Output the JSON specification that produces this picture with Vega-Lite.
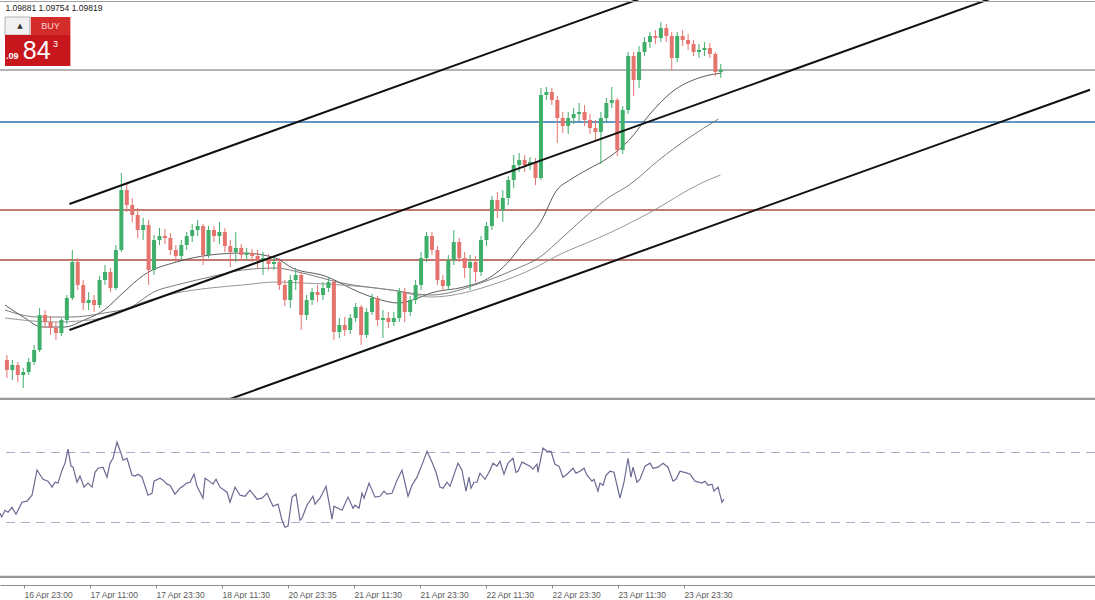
{
"$schema":"https://vega.github.io/schema/vega-lite/v6.json",
"padding":0,
"autosize":{"type":"pad"},
"background":"white",
"spacing":0,
"bounds":"flush",
"config":{"view":{"stroke":null},"font":"Liberation Sans"},
"datasets":{
"candles":[
{"t":8,"o":1.0690,"h":1.0695,"l":1.0672,"c":1.0680},
{"t":9,"o":1.0680,"h":1.0690,"l":1.0670,"c":1.0685},
{"t":10,"o":1.0685,"h":1.0688,"l":1.0668,"c":1.0675},
{"t":11,"o":1.0675,"h":1.0682,"l":1.0662,"c":1.0678},
{"t":12,"o":1.0678,"h":1.0692,"l":1.0675,"c":1.0688},
{"t":13,"o":1.0688,"h":1.0705,"l":1.0685,"c":1.0700},
{"t":14,"o":1.0700,"h":1.0742,"l":1.0698,"c":1.0735},
{"t":15,"o":1.0735,"h":1.0740,"l":1.0722,"c":1.0728},
{"t":16,"o":1.0728,"h":1.0734,"l":1.0715,"c":1.0722},
{"t":17,"o":1.0722,"h":1.0728,"l":1.0710,"c":1.0717},
{"t":18,"o":1.0717,"h":1.0732,"l":1.0714,"c":1.0730},
{"t":19,"o":1.0730,"h":1.0755,"l":1.0726,"c":1.0752},
{"t":20,"o":1.0752,"h":1.0800,"l":1.0750,"c":1.0788},
{"t":21,"o":1.0788,"h":1.0792,"l":1.0760,"c":1.0765},
{"t":22,"o":1.0765,"h":1.0770,"l":1.0740,"c":1.0747},
{"t":23,"o":1.0747,"h":1.0758,"l":1.0740,"c":1.0750},
{"t":24,"o":1.0750,"h":1.0755,"l":1.0738,"c":1.0745},
{"t":25,"o":1.0745,"h":1.0774,"l":1.0742,"c":1.0770},
{"t":26,"o":1.0770,"h":1.0785,"l":1.0765,"c":1.0778},
{"t":27,"o":1.0778,"h":1.0782,"l":1.0758,"c":1.0762},
{"t":28,"o":1.0762,"h":1.0805,"l":1.0760,"c":1.0800},
{"t":29,"o":1.0800,"h":1.0877,"l":1.0798,"c":1.0860},
{"t":30,"o":1.0860,"h":1.0867,"l":1.0838,"c":1.0845},
{"t":31,"o":1.0845,"h":1.0852,"l":1.0828,"c":1.0835},
{"t":32,"o":1.0835,"h":1.0842,"l":1.0812,"c":1.0820},
{"t":33,"o":1.0820,"h":1.0832,"l":1.0810,"c":1.0825},
{"t":34,"o":1.0825,"h":1.0830,"l":1.0765,"c":1.0780},
{"t":35,"o":1.0780,"h":1.0815,"l":1.0775,"c":1.0810},
{"t":36,"o":1.0810,"h":1.0822,"l":1.0805,"c":1.0814},
{"t":37,"o":1.0814,"h":1.0821,"l":1.0806,"c":1.0812},
{"t":38,"o":1.0812,"h":1.0817,"l":1.0795,"c":1.0800},
{"t":39,"o":1.0800,"h":1.0805,"l":1.0788,"c":1.0794},
{"t":40,"o":1.0794,"h":1.0810,"l":1.0790,"c":1.0805},
{"t":41,"o":1.0805,"h":1.0818,"l":1.0800,"c":1.0814},
{"t":42,"o":1.0814,"h":1.0826,"l":1.0808,"c":1.0820},
{"t":43,"o":1.0820,"h":1.0830,"l":1.0814,"c":1.0824},
{"t":44,"o":1.0824,"h":1.0826,"l":1.0785,"c":1.0795},
{"t":45,"o":1.0795,"h":1.0824,"l":1.0792,"c":1.0820},
{"t":46,"o":1.0820,"h":1.0824,"l":1.0808,"c":1.0814},
{"t":47,"o":1.0814,"h":1.0828,"l":1.0806,"c":1.0818},
{"t":48,"o":1.0818,"h":1.0822,"l":1.0798,"c":1.0804},
{"t":49,"o":1.0804,"h":1.0810,"l":1.0783,"c":1.0798},
{"t":50,"o":1.0798,"h":1.0818,"l":1.0788,"c":1.0802},
{"t":51,"o":1.0802,"h":1.0806,"l":1.0790,"c":1.0795},
{"t":52,"o":1.0795,"h":1.0802,"l":1.0790,"c":1.0797},
{"t":53,"o":1.0797,"h":1.0801,"l":1.0788,"c":1.0794},
{"t":54,"o":1.0794,"h":1.0800,"l":1.0782,"c":1.0790},
{"t":55,"o":1.0790,"h":1.0798,"l":1.0775,"c":1.0792},
{"t":56,"o":1.0792,"h":1.0796,"l":1.0780,"c":1.0786},
{"t":57,"o":1.0786,"h":1.0794,"l":1.0780,"c":1.0788},
{"t":58,"o":1.0788,"h":1.0792,"l":1.0760,"c":1.0765},
{"t":59,"o":1.0765,"h":1.0770,"l":1.0744,"c":1.0750},
{"t":60,"o":1.0750,"h":1.0775,"l":1.0742,"c":1.0770},
{"t":61,"o":1.0770,"h":1.0782,"l":1.0760,"c":1.0775},
{"t":62,"o":1.0775,"h":1.0778,"l":1.0720,"c":1.0735},
{"t":63,"o":1.0735,"h":1.0755,"l":1.0730,"c":1.0750},
{"t":64,"o":1.0750,"h":1.0762,"l":1.0745,"c":1.0758},
{"t":65,"o":1.0758,"h":1.0765,"l":1.0748,"c":1.0755},
{"t":66,"o":1.0755,"h":1.0768,"l":1.0750,"c":1.0762},
{"t":67,"o":1.0762,"h":1.0773,"l":1.0758,"c":1.0768},
{"t":68,"o":1.0768,"h":1.0770,"l":1.0710,"c":1.0718},
{"t":69,"o":1.0718,"h":1.0732,"l":1.0712,"c":1.0725},
{"t":70,"o":1.0725,"h":1.0733,"l":1.0714,"c":1.0720},
{"t":71,"o":1.0720,"h":1.0736,"l":1.0716,"c":1.0732},
{"t":72,"o":1.0732,"h":1.0747,"l":1.0728,"c":1.0743},
{"t":73,"o":1.0743,"h":1.0745,"l":1.0705,"c":1.0715},
{"t":74,"o":1.0715,"h":1.0742,"l":1.0712,"c":1.0738},
{"t":75,"o":1.0738,"h":1.0756,"l":1.0735,"c":1.0752},
{"t":76,"o":1.0752,"h":1.0754,"l":1.0724,"c":1.0730},
{"t":77,"o":1.0730,"h":1.0740,"l":1.0712,"c":1.0732},
{"t":78,"o":1.0732,"h":1.0738,"l":1.0722,"c":1.0728},
{"t":79,"o":1.0728,"h":1.0738,"l":1.0724,"c":1.0732},
{"t":80,"o":1.0732,"h":1.0762,"l":1.0728,"c":1.0758},
{"t":81,"o":1.0758,"h":1.0762,"l":1.0728,"c":1.0738},
{"t":82,"o":1.0738,"h":1.0754,"l":1.0734,"c":1.0750},
{"t":83,"o":1.0750,"h":1.0770,"l":1.0746,"c":1.0765},
{"t":84,"o":1.0765,"h":1.0798,"l":1.0760,"c":1.0792},
{"t":85,"o":1.0792,"h":1.0818,"l":1.0788,"c":1.0814},
{"t":86,"o":1.0814,"h":1.0818,"l":1.0795,"c":1.0800},
{"t":87,"o":1.0800,"h":1.0804,"l":1.0765,"c":1.0770},
{"t":88,"o":1.0770,"h":1.0775,"l":1.0759,"c":1.0764},
{"t":89,"o":1.0764,"h":1.0795,"l":1.0760,"c":1.0790},
{"t":90,"o":1.0790,"h":1.0820,"l":1.0785,"c":1.0808},
{"t":91,"o":1.0808,"h":1.0812,"l":1.0788,"c":1.0792},
{"t":92,"o":1.0792,"h":1.0798,"l":1.0772,"c":1.0782},
{"t":93,"o":1.0782,"h":1.0795,"l":1.0760,"c":1.0788},
{"t":94,"o":1.0788,"h":1.0794,"l":1.0768,"c":1.0778},
{"t":95,"o":1.0778,"h":1.0814,"l":1.0774,"c":1.0810},
{"t":96,"o":1.0810,"h":1.0828,"l":1.0804,"c":1.0824},
{"t":97,"o":1.0824,"h":1.0854,"l":1.0820,"c":1.0850},
{"t":98,"o":1.0850,"h":1.0858,"l":1.0832,"c":1.0840},
{"t":99,"o":1.0840,"h":1.0860,"l":1.0828,"c":1.0852},
{"t":100,"o":1.0852,"h":1.0874,"l":1.0845,"c":1.0870},
{"t":101,"o":1.0870,"h":1.0895,"l":1.0862,"c":1.0885},
{"t":102,"o":1.0885,"h":1.0897,"l":1.0878,"c":1.0890},
{"t":103,"o":1.0890,"h":1.0895,"l":1.0878,"c":1.0885},
{"t":104,"o":1.0885,"h":1.0893,"l":1.0880,"c":1.0888},
{"t":105,"o":1.0888,"h":1.0892,"l":1.0865,"c":1.0872},
{"t":106,"o":1.0872,"h":1.0962,"l":1.0870,"c":1.0955},
{"t":107,"o":1.0955,"h":1.0963,"l":1.0950,"c":1.0958},
{"t":108,"o":1.0958,"h":1.0962,"l":1.0945,"c":1.0950},
{"t":109,"o":1.0950,"h":1.0954,"l":1.0907,"c":1.0932},
{"t":110,"o":1.0932,"h":1.0938,"l":1.0917,"c":1.0924},
{"t":111,"o":1.0924,"h":1.0938,"l":1.0916,"c":1.0932},
{"t":112,"o":1.0932,"h":1.0942,"l":1.0926,"c":1.0936},
{"t":113,"o":1.0936,"h":1.0947,"l":1.0928,"c":1.0938},
{"t":114,"o":1.0938,"h":1.0945,"l":1.0924,"c":1.0930},
{"t":115,"o":1.0930,"h":1.0936,"l":1.0916,"c":1.0922},
{"t":116,"o":1.0922,"h":1.0930,"l":1.0910,"c":1.0918},
{"t":117,"o":1.0918,"h":1.0938,"l":1.0886,"c":1.0932},
{"t":118,"o":1.0932,"h":1.0952,"l":1.0928,"c":1.0947},
{"t":119,"o":1.0947,"h":1.0963,"l":1.0942,"c":1.0950},
{"t":120,"o":1.0950,"h":1.0952,"l":1.0894,"c":1.0900},
{"t":121,"o":1.0900,"h":1.0944,"l":1.0896,"c":1.0940},
{"t":122,"o":1.0940,"h":1.0998,"l":1.0936,"c":1.0994},
{"t":123,"o":1.0994,"h":1.0998,"l":1.0954,"c":1.0970},
{"t":124,"o":1.0970,"h":1.1004,"l":1.0962,"c":1.0998},
{"t":125,"o":1.0998,"h":1.1013,"l":1.0994,"c":1.1008},
{"t":126,"o":1.1008,"h":1.1018,"l":1.1002,"c":1.1014},
{"t":127,"o":1.1014,"h":1.1020,"l":1.1006,"c":1.1012},
{"t":128,"o":1.1012,"h":1.1028,"l":1.1008,"c":1.1022},
{"t":129,"o":1.1022,"h":1.1026,"l":1.1008,"c":1.1014},
{"t":130,"o":1.1014,"h":1.1018,"l":1.0980,"c":1.0992},
{"t":131,"o":1.0992,"h":1.1018,"l":1.0988,"c":1.1014},
{"t":132,"o":1.1014,"h":1.1020,"l":1.1004,"c":1.1010},
{"t":133,"o":1.1010,"h":1.1016,"l":1.1000,"c":1.1006},
{"t":134,"o":1.1006,"h":1.1010,"l":1.0994,"c":1.0998},
{"t":135,"o":1.0998,"h":1.1006,"l":1.0992,"c":1.1000},
{"t":136,"o":1.1000,"h":1.1008,"l":1.0994,"c":1.1002},
{"t":137,"o":1.1002,"h":1.1007,"l":1.0992,"c":1.0996},
{"t":138,"o":1.0996,"h":1.0998,"l":1.0974,"c":1.0978},
{"t":139,"o":1.0978,"h":1.0986,"l":1.0972,"c":1.0980}
],
"ma":[
{"s":"MA1","t":7.65,"p":1.0745},{"s":"MA1","t":11.29,"p":1.0732},{"s":"MA1","t":14.38,"p":1.0723},{"s":"MA1","t":18.56,"p":1.0723},{"s":"MA1","t":22.2,"p":1.073},{"s":"MA1","t":25.84,"p":1.074},{"s":"MA1","t":29.47,"p":1.0758},{"s":"MA1","t":33.11,"p":1.0775},{"s":"MA1","t":39.11,"p":1.0788},{"s":"MA1","t":45.29,"p":1.0795},{"s":"MA1","t":51.29,"p":1.0797},{"s":"MA1","t":57.29,"p":1.0792},{"s":"MA1","t":60.38,"p":1.0782},{"s":"MA1","t":66.38,"p":1.0774},{"s":"MA1","t":72.56,"p":1.0758},{"s":"MA1","t":75.47,"p":1.0752},{"s":"MA1","t":79.84,"p":1.0747},{"s":"MA1","t":83.47,"p":1.0752},{"s":"MA1","t":85.84,"p":1.0757},{"s":"MA1","t":91.84,"p":1.0763},{"s":"MA1","t":96.75,"p":1.0773},{"s":"MA1","t":99.84,"p":1.0787},{"s":"MA1","t":102.75,"p":1.0807},{"s":"MA1","t":105.84,"p":1.0827},{"s":"MA1","t":108.93,"p":1.086},{"s":"MA1","t":111.29,"p":1.087},{"s":"MA1","t":114.38,"p":1.088},{"s":"MA1","t":118.56,"p":1.0893},{"s":"MA1","t":122.2,"p":1.091},{"s":"MA1","t":125.84,"p":1.0935},{"s":"MA1","t":130.02,"p":1.0958},{"s":"MA1","t":134.93,"p":1.0972},{"s":"MA1","t":139.11,"p":1.0977},
{"s":"MA2","t":7.65,"p":1.074},{"s":"MA2","t":13.65,"p":1.0733},{"s":"MA2","t":19.84,"p":1.0733},{"s":"MA2","t":25.84,"p":1.0737},{"s":"MA2","t":30.75,"p":1.0743},{"s":"MA2","t":34.93,"p":1.0758},{"s":"MA2","t":39.11,"p":1.0765},{"s":"MA2","t":45.29,"p":1.0773},{"s":"MA2","t":51.29,"p":1.078},{"s":"MA2","t":57.29,"p":1.0782},{"s":"MA2","t":62.2,"p":1.0777},{"s":"MA2","t":69.47,"p":1.0767},{"s":"MA2","t":78.56,"p":1.076},{"s":"MA2","t":85.84,"p":1.0755},{"s":"MA2","t":94.93,"p":1.0767},{"s":"MA2","t":100.93,"p":1.078},{"s":"MA2","t":105.84,"p":1.0793},{"s":"MA2","t":110.02,"p":1.0813},{"s":"MA2","t":114.93,"p":1.0837},{"s":"MA2","t":118.56,"p":1.0853},{"s":"MA2","t":122.2,"p":1.0865},{"s":"MA2","t":127.65,"p":1.089},{"s":"MA2","t":133.11,"p":1.0912},{"s":"MA2","t":138.56,"p":1.0931},
{"s":"MA3","t":7.65,"p":1.0732},{"s":"MA3","t":16.75,"p":1.0728},{"s":"MA3","t":25.84,"p":1.0732},{"s":"MA3","t":33.11,"p":1.0748},{"s":"MA3","t":39.11,"p":1.0757},{"s":"MA3","t":45.29,"p":1.0762},{"s":"MA3","t":51.29,"p":1.0765},{"s":"MA3","t":57.29,"p":1.0768},{"s":"MA3","t":62.2,"p":1.0767},{"s":"MA3","t":69.47,"p":1.0765},{"s":"MA3","t":78.56,"p":1.076},{"s":"MA3","t":85.84,"p":1.0753},{"s":"MA3","t":98.02,"p":1.0767},{"s":"MA3","t":104.02,"p":1.078},{"s":"MA3","t":110.02,"p":1.0797},{"s":"MA3","t":114.38,"p":1.0807},{"s":"MA3","t":118.56,"p":1.0817},{"s":"MA3","t":125.84,"p":1.0837},{"s":"MA3","t":135.47,"p":1.0867},{"s":"MA3","t":138.93,"p":1.0875}
],
"channel":[
{"id":"upper","t":19.47,"p":1.0846},{"id":"upper","t":124.02,"p":1.10509},
{"id":"middle","t":19.47,"p":1.072},{"id":"middle","t":188.56,"p":1.10514},
{"id":"lower","t":48.56,"p":1.06502},{"id":"lower","t":206.75,"p":1.09602}
],
"levels":[
{"name":"bid","p":1.098},{"name":"pivot","p":1.0928},{"name":"r1","p":1.084},{"name":"r2","p":1.079}
],
"rsi":[
{"t":7.65,"v":35.3},{"t":7.96,"v":33.2},{"t":8.56,"v":37.0},{"t":9.11,"v":35.9},{"t":9.84,"v":38.7},{"t":10.56,"v":34.7},{"t":11.65,"v":41.6},{"t":12.56,"v":42.2},{"t":13.47,"v":45.6},{"t":14.38,"v":60.0},{"t":15.47,"v":54.7},{"t":16.38,"v":53.6},{"t":17.11,"v":50.2},{"t":17.65,"v":53.0},{"t":18.2,"v":52.5},{"t":18.93,"v":59.9},{"t":19.47,"v":63.9},{"t":20.02,"v":71.9},{"t":20.56,"v":62.2},{"t":20.93,"v":61.6},{"t":21.65,"v":53.0},{"t":22.2,"v":56.5},{"t":22.93,"v":50.2},{"t":23.65,"v":52.5},{"t":24.38,"v":50.2},{"t":24.93,"v":58.7},{"t":25.47,"v":61.0},{"t":26.38,"v":61.6},{"t":27.11,"v":55.9},{"t":27.65,"v":63.9},{"t":28.2,"v":66.7},{"t":28.93,"v":75.9},{"t":29.65,"v":69.6},{"t":30.02,"v":65.6},{"t":30.75,"v":66.7},{"t":31.65,"v":57.0},{"t":32.2,"v":56.5},{"t":32.75,"v":57.6},{"t":33.47,"v":55.9},{"t":34.56,"v":45.6},{"t":35.29,"v":46.7},{"t":35.65,"v":53.6},{"t":36.75,"v":55.3},{"t":37.29,"v":54.2},{"t":38.02,"v":51.9},{"t":38.56,"v":51.3},{"t":39.47,"v":46.2},{"t":40.38,"v":49.6},{"t":41.65,"v":52.5},{"t":42.2,"v":53.0},{"t":42.93,"v":57.6},{"t":43.47,"v":50.7},{"t":44.02,"v":47.3},{"t":44.56,"v":43.9},{"t":44.93,"v":55.3},{"t":45.47,"v":54.2},{"t":46.38,"v":51.9},{"t":46.93,"v":54.7},{"t":47.65,"v":50.2},{"t":48.93,"v":47.3},{"t":49.47,"v":41.6},{"t":50.38,"v":50.2},{"t":51.29,"v":45.6},{"t":52.2,"v":45.0},{"t":53.11,"v":48.5},{"t":54.38,"v":43.3},{"t":55.29,"v":43.9},{"t":56.2,"v":46.7},{"t":57.29,"v":39.3},{"t":58.2,"v":40.5},{"t":58.93,"v":31.3},{"t":59.47,"v":27.3},{"t":60.02,"v":27.9},{"t":60.75,"v":44.5},{"t":61.47,"v":46.2},{"t":62.2,"v":31.3},{"t":62.56,"v":32.5},{"t":63.47,"v":39.9},{"t":64.56,"v":45.0},{"t":64.93,"v":40.5},{"t":65.84,"v":43.9},{"t":66.93,"v":50.7},{"t":68.02,"v":31.9},{"t":68.38,"v":39.3},{"t":69.84,"v":37.0},{"t":70.93,"v":44.5},{"t":71.84,"v":38.2},{"t":72.2,"v":39.9},{"t":72.93,"v":38.2},{"t":73.47,"v":46.7},{"t":73.84,"v":43.9},{"t":74.75,"v":52.5},{"t":75.84,"v":44.5},{"t":76.75,"v":45.0},{"t":77.47,"v":47.9},{"t":78.02,"v":46.2},{"t":78.93,"v":46.7},{"t":79.84,"v":54.2},{"t":80.75,"v":59.9},{"t":81.84,"v":45.0},{"t":82.56,"v":51.3},{"t":83.47,"v":55.9},{"t":84.56,"v":64.5},{"t":85.29,"v":70.7},{"t":86.2,"v":64.5},{"t":86.93,"v":58.7},{"t":87.65,"v":50.2},{"t":88.2,"v":49.6},{"t":88.93,"v":53.0},{"t":89.47,"v":50.7},{"t":90.93,"v":63.9},{"t":91.65,"v":59.9},{"t":92.38,"v":47.9},{"t":92.93,"v":55.9},{"t":93.29,"v":49.6},{"t":93.84,"v":53.0},{"t":94.38,"v":53.0},{"t":94.93,"v":58.2},{"t":95.84,"v":54.7},{"t":96.56,"v":58.7},{"t":97.29,"v":63.9},{"t":98.02,"v":62.2},{"t":98.56,"v":65.0},{"t":99.29,"v":57.6},{"t":100.02,"v":63.9},{"t":100.93,"v":66.7},{"t":101.47,"v":58.7},{"t":101.84,"v":59.3},{"t":102.56,"v":64.5},{"t":104.02,"v":62.2},{"t":104.56,"v":60.5},{"t":105.29,"v":63.3},{"t":105.47,"v":58.7},{"t":106.38,"v":72.5},{"t":107.11,"v":70.7},{"t":107.84,"v":70.7},{"t":108.56,"v":63.3},{"t":109.29,"v":62.2},{"t":110.02,"v":55.9},{"t":110.75,"v":57.6},{"t":111.84,"v":61.0},{"t":112.38,"v":58.2},{"t":113.11,"v":59.3},{"t":113.84,"v":61.0},{"t":114.38,"v":57.0},{"t":115.29,"v":53.6},{"t":115.65,"v":54.7},{"t":116.38,"v":47.9},{"t":116.75,"v":52.5},{"t":117.29,"v":51.3},{"t":117.84,"v":57.0},{"t":118.56,"v":59.3},{"t":119.29,"v":58.7},{"t":120.38,"v":43.9},{"t":121.11,"v":53.0},{"t":121.84,"v":66.7},{"t":122.38,"v":55.9},{"t":122.75,"v":61.6},{"t":123.47,"v":53.0},{"t":124.02,"v":54.7},{"t":124.93,"v":62.2},{"t":125.84,"v":63.9},{"t":126.38,"v":61.0},{"t":127.29,"v":61.6},{"t":128.2,"v":63.9},{"t":129.11,"v":61.6},{"t":130.02,"v":53.6},{"t":130.56,"v":54.7},{"t":131.29,"v":59.3},{"t":132.56,"v":58.2},{"t":133.11,"v":57.6},{"t":134.02,"v":53.6},{"t":135.29,"v":52.5},{"t":135.84,"v":53.6},{"t":136.38,"v":51.3},{"t":137.11,"v":51.9},{"t":137.47,"v":47.9},{"t":138.2,"v":50.2},{"t":138.93,"v":41.6},{"t":139.29,"v":43.3}
],
"rsilevels":[{"v":70},{"v":30}]
},
"vconcat":[
{
"width":1095,"height":400,
"resolve":{"scale":{"color":"independent"}},
"layer":[
{"data":{"name":"levels"},"mark":{"type":"rule","strokeWidth":1.3,"clip":true},
 "encoding":{"y":{"field":"p","type":"quantitative","scale":{"domain":[1.065,1.105],"nice":false,"zero":false},"axis":null},
  "color":{"field":"name","type":"nominal","scale":{"domain":["bid","pivot","r1","r2"],"range":["#9c9c9c","#2f73b0","#ae4d43","#ae4d43"]},"legend":null}}},
{"data":{"name":"ma"},"mark":{"type":"line","strokeWidth":0.9,"clip":true,"interpolate":"monotone"},
 "encoding":{"x":{"field":"t","type":"quantitative","scale":{"domain":[7.65,206.75],"nice":false,"zero":false},"axis":null},
  "y":{"field":"p","type":"quantitative","axis":null},
  "color":{"field":"s","type":"nominal","scale":{"domain":["MA1","MA2","MA3"],"range":["#4a4a4a","#6e6e6e","#8a8a8a"]},"legend":null}}},
{"data":{"name":"candles"},"mark":{"type":"rule","strokeWidth":1,"clip":true},
 "encoding":{"x":{"field":"t","type":"quantitative","axis":null},
  "y":{"field":"l","type":"quantitative","axis":null},"y2":{"field":"h"},
  "color":{"condition":{"test":"datum.c >= datum.o","value":"#3fae6a"},"value":"#e5746f"}}},
{"data":{"name":"candles"},"mark":{"type":"bar","size":4,"clip":true},
 "encoding":{"x":{"field":"t","type":"quantitative","axis":null},
  "y":{"field":"o","type":"quantitative","axis":null},"y2":{"field":"c"},
  "color":{"condition":{"test":"datum.c >= datum.o","value":"#3fae6a"},"value":"#e5746f"}}},
{"data":{"name":"channel"},"mark":{"type":"line","color":"#111111","strokeWidth":2,"clip":true},
 "encoding":{"x":{"field":"t","type":"quantitative","axis":null},
  "y":{"field":"p","type":"quantitative","axis":null},"detail":{"field":"id"}}},
{"data":{"values":[{}]},"mark":{"type":"rule","color":"#a0a0a0","strokeWidth":1,"clip":true},
 "encoding":{"y":{"datum":1.10485,"type":"quantitative","axis":null}}},
{"data":{"values":[{}]},"mark":{"type":"rule","color":"#999999","strokeWidth":2.5,"clip":true},
 "encoding":{"y":{"datum":1.0651,"type":"quantitative","axis":null}}},
{"data":{"values":[{}]},"mark":{"type":"rect","fill":"#f1f1f1","stroke":"#b3b3b3","strokeWidth":1,"clip":true},
 "encoding":{"x":{"datum":7.65,"type":"quantitative","axis":null},"x2":{"datum":12.2},"y":{"datum":1.1033,"type":"quantitative","axis":null},"y2":{"datum":1.1015}}},
{"data":{"values":[{}]},"mark":{"type":"rect","fill":"#c8171c","clip":true},
 "encoding":{"x":{"datum":7.65,"type":"quantitative","axis":null},"x2":{"datum":19.65},"y":{"datum":1.1015,"type":"quantitative","axis":null},"y2":{"datum":1.0984}}},
{"data":{"values":[{}]},"mark":{"type":"rect","fill":"#d42b2b","clip":true},
 "encoding":{"x":{"datum":12.38,"type":"quantitative","axis":null},"x2":{"datum":19.65},"y":{"datum":1.1033,"type":"quantitative","axis":null},"y2":{"datum":1.1015}}},
{"data":{"values":[{}]},"mark":{"type":"text","text":"▲","font":"DejaVu Sans","fontSize":7,"color":"#333333","align":"center","baseline":"middle"},
 "encoding":{"x":{"datum":10.38,"type":"quantitative","axis":null},"y":{"datum":1.1024,"type":"quantitative","axis":null}}},
{"data":{"values":[{}]},"mark":{"type":"text","text":"BUY","fontSize":9,"color":"#fbd2d2","align":"center","baseline":"middle"},
 "encoding":{"x":{"datum":16.02,"type":"quantitative","axis":null},"y":{"datum":1.1024,"type":"quantitative","axis":null}}},
{"data":{"values":[{}]},"mark":{"type":"text","text":"84","fontSize":25,"color":"#ffffff","align":"center","baseline":"middle"},
 "encoding":{"x":{"datum":13.47,"type":"quantitative","axis":null},"y":{"datum":1.0999,"type":"quantitative","axis":null}}},
{"data":{"values":[{}]},"mark":{"type":"text","text":"3","fontSize":9,"color":"#ffffff","align":"center","baseline":"middle"},
 "encoding":{"x":{"datum":16.93,"type":"quantitative","axis":null},"y":{"datum":1.1006,"type":"quantitative","axis":null}}},
{"data":{"values":[{}]},"mark":{"type":"text","text":".09","fontSize":9,"fontWeight":"bold","color":"#ffffff","align":"left","baseline":"middle"},
 "encoding":{"x":{"datum":7.84,"type":"quantitative","axis":null},"y":{"datum":1.0994,"type":"quantitative","axis":null}}},
{"data":{"values":[{}]},"mark":{"type":"text","text":"1.09881 1.09754 1.09819","fontSize":8.5,"color":"#222222","align":"left","baseline":"middle"},
 "encoding":{"x":{"datum":7.74,"type":"quantitative","axis":null},"y":{"datum":1.1042,"type":"quantitative","axis":null}}}
]
},
{
"width":1095,"height":178,
"layer":[
{"data":{"name":"rsilevels"},"mark":{"type":"rule","color":"#acacc8","strokeWidth":1,"strokeDash":[9,6],"clip":true},
 "encoding":{"y":{"field":"v","type":"quantitative","scale":{"domain":[-1.7143,100],"nice":false,"zero":false},"axis":null}}},
{"data":{"values":[{}]},"mark":{"type":"rule","color":"#999999","strokeWidth":2.5,"clip":true},
 "encoding":{"y":{"datum":-1.14,"type":"quantitative","axis":null}}},
{"data":{"name":"rsi"},"mark":{"type":"line","color":"#6a6a92","strokeWidth":1.2,"clip":true},
 "encoding":{"x":{"field":"t","type":"quantitative","scale":{"domain":[7.65,206.75],"nice":false,"zero":false},
   "axis":{"values":[12,24,36,48,60,72,84,96,108,120,132],
    "labelExpr":"['16 Apr 23:00','17 Apr 11:00','17 Apr 23:30','18 Apr 11:30','20 Apr 23:35','21 Apr 11:30','21 Apr 23:30','22 Apr 11:30','22 Apr 23:30','23 Apr 11:30','23 Apr 23:30'][round(datum.value/12)-1]",
    "title":null,"grid":false,"offset":7,"domainColor":"#8c8c8c","domainWidth":1,"tickColor":"#8c8c8c","tickSize":3,
    "labelAlign":"left","labelPadding":2,"labelFont":"Liberation Sans","labelFontSize":8.5,"labelColor":"#5a5a5a","labelOverlap":false,"labelFlush":false}},
  "y":{"field":"v","type":"quantitative","axis":null}}}
]
}
]
}
